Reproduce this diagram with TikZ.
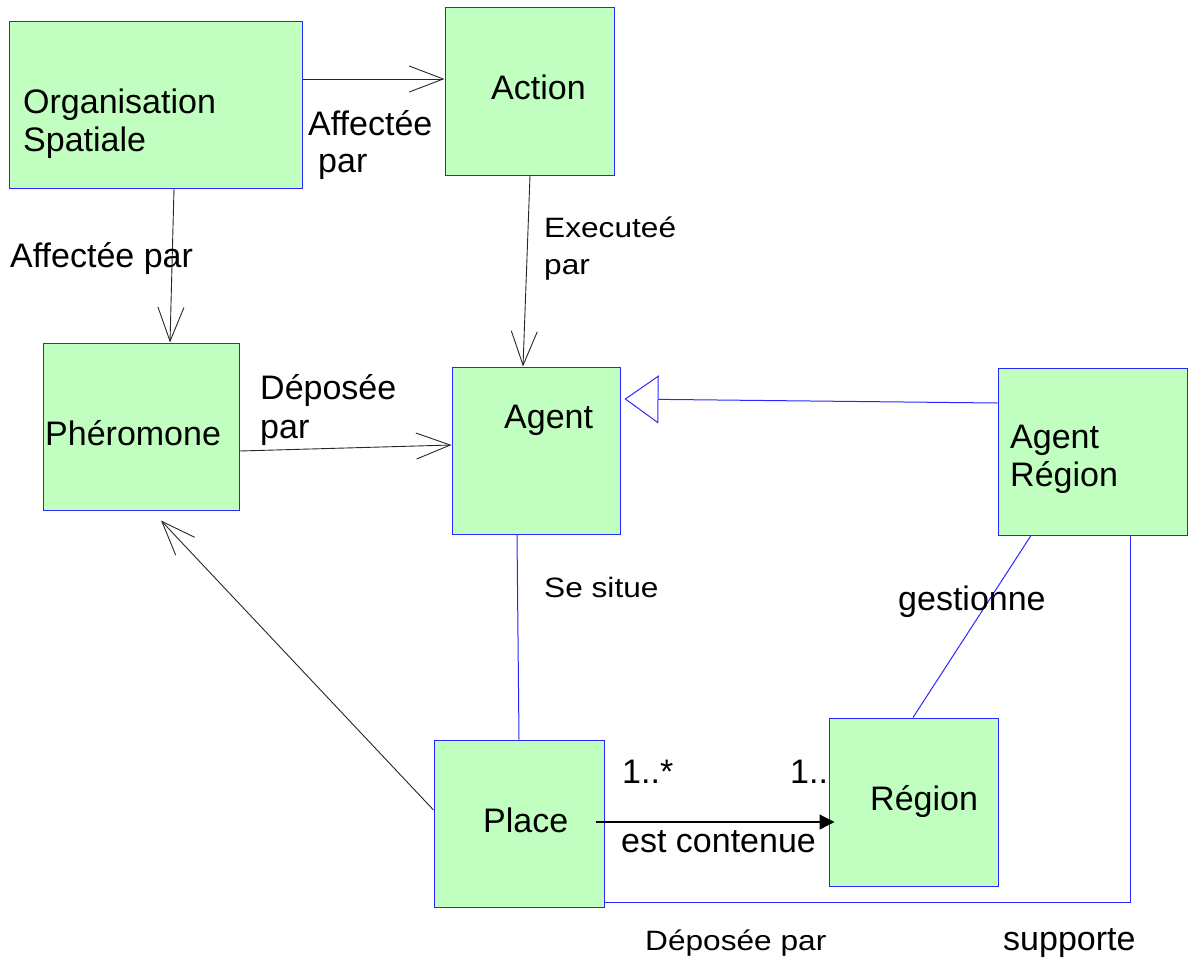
\documentclass[tikz,border=0pt]{standalone}
\usepackage{fontspec}
\setmainfont{Liberation Sans}
\newfontfamily\widelbl{Liberation Sans}[FakeStretch=1.13]
\usetikzlibrary{arrows.meta,calc}
\definecolor{boxfill}{HTML}{C0FFC0}
\definecolor{boxline}{HTML}{2828FF}
\tikzset{
  box/.style={draw=boxline, fill=boxfill, line width=1pt, inner sep=0pt, rectangle},
  txt/.style={inner sep=0pt, anchor=base west, font=\fontsize{34}{38}\selectfont},
  stxt/.style={inner sep=0pt, anchor=base west, font=\widelbl\fontsize{28}{32}\selectfont},
  assoc/.style={draw=black!85, line width=0.9pt, -{Straight Barb[length=34pt,width=26pt,line width=0.9pt]}},
  navig/.style={draw=black, line width=1.2pt, -{Triangle[length=15pt,width=15pt]}},
  inherit/.style={draw=boxline, line width=1pt, -{Triangle[open,length=34pt,width=48pt,line width=1pt]}},
  link/.style={draw=boxline, line width=1pt},
}
\begin{document}
\begin{tikzpicture}[x=1pt,y=-1pt]
\useasboundingbox (0,0) rectangle (1188,959);

% labels hidden partly behind boxes
\node[txt] (m2) at (790,783) {1..1};

% boxes
\node[box, minimum width=293pt, minimum height=167pt] (org) at (155.5,104.5) {};
\node[box, minimum width=169pt, minimum height=168pt] (action) at (529.5,91) {};
\node[box, minimum width=196pt, minimum height=167pt] (pher) at (141,426.5) {};
\node[box, minimum width=168pt, minimum height=167pt] (agent) at (536,450.5) {};
\node[box, minimum width=189pt, minimum height=167pt] (ar) at (1092.5,451.5) {};
\node[box, minimum width=170pt, minimum height=167pt] (place) at (519,823.5) {};
\node[box, minimum width=169pt, minimum height=168pt] (region) at (913.5,802) {};

% box texts
\node[txt] (orgT1) at (23,113) {Organisation};
\node[txt] (orgT2) at (23,151) {Spatiale};
\node[txt] (actionT) at (491,99) {Action};
\node[txt] (pherT) at (45,445) {Phéromone};
\node[txt] (agentT) at (504,428) {Agent};
\node[txt] (arT1) at (1010,448) {Agent};
\node[txt] (arT2) at (1010,486) {Région};
\node[txt] (placeT) at (483,832) {Place};
\node[txt] (regionT) at (870,810) {Région};

% connectors
\draw[assoc] ($(org.east)+(0,-25.5)$) -- ($(action.west)+(0,-12)$);
\draw[assoc] ($(org.south)+(18.5,0)$) -- ($(pher.north)+(29,0)$);
\draw[assoc] ($(action.south)+(0.5,0)$) -- ($(agent.north)+(-13,0)$);
\draw[assoc] ($(pher.east)+(0,24.5)$) -- ($(agent.west)+(0,-5.5)$);
\draw[assoc] ($(place.west)+(0,-13.5)$) -- ($(pher.south)+(20,10)$);
\draw[inherit] ($(ar.west)+(0,-48.5)$) -- ($(agent.east)+(4,-51.5)$);
\draw[link] ($(agent.south)+(-19,0)$) -- (place.north);
\draw[link] ($(ar.south)+(-61.5,0)$) -- ($(region.north)+(-0.5,0)$);
\draw[link] ($(place.east)+(0,78.5)$) -| ($(ar.south)+(37.5,0)$);
\draw[navig] ($(place.east)+(-9,-1.5)$) -- ($(region.west)+(6,20)$);

% connector labels
\node[txt] (aff1) at (308,135) {Affectée};
\node[txt] (aff2) at (318,172) {par};
\node[txt] (aff3) at (10,267) {Affectée par};
\node[stxt] (exe1) at (544,237) {Executeé};
\node[stxt] (exe2) at (544,274) {par};
\node[txt] (dep1) at (260,399) {Déposée};
\node[txt] (dep2) at (260,438) {par};
\node[stxt] (situe) at (544,597) {Se situe};
\node[txt] (gest) at (898,610) {gestionne};
\node[txt] (m1) at (622,783) {1..*};
\node[txt] (cont) at (621,852) {est contenue};
\node[stxt] (dep3) at (645,950) {Déposée par};
\node[txt] (supp) at (1003,950) {supporte};
\end{tikzpicture}
\end{document}
